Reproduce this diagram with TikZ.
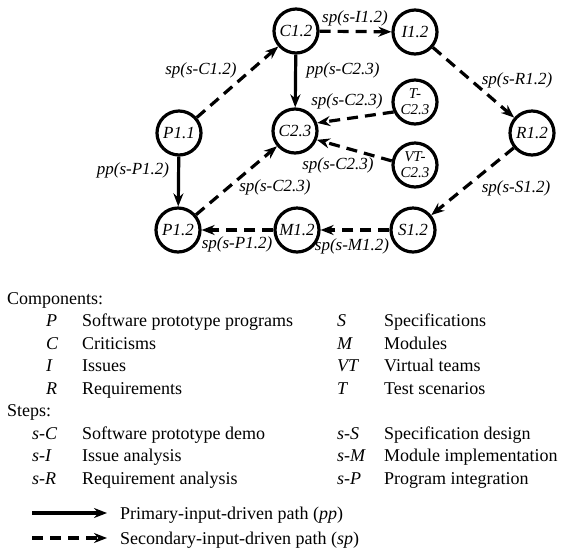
\documentclass[tikz,border=0pt]{standalone}
\usepackage{fontspec}
\setmainfont{Liberation Serif}
\usetikzlibrary{arrows.meta}
\begin{document}
\begin{tikzpicture}[x=1pt,y=-1pt,
  st/.style={circle,draw,line width=3.2pt,minimum size=44pt,inner sep=0pt,
    font=\fontsize{17}{15}\selectfont\itshape,align=center},
  st2/.style={st,font=\fontsize{15}{16}\selectfont\itshape},
  lbl/.style={font=\fontsize{17}{17}\selectfont\itshape,inner sep=0pt},
  ppath/.style={line width=3.2pt,-{Stealth[length=13pt,width=10pt]}},
  spath/.style={ppath,dash pattern=on 11pt off 7pt},
  lg/.style={font=\fontsize{18}{18}\selectfont,anchor=base west,inner sep=0pt},
  lgi/.style={lg,font=\fontsize{18}{18}\selectfont\itshape}]
\useasboundingbox (0,0) rectangle (567,550);
% nodes
\node[st] (C12) at (296,31) {C1.2};
\node[st] (I12) at (415,32) {I1.2};
\node[st] (P11) at (179,133) {P1.1};
\node[st] (C23) at (295,131) {C2.3};
\node[st2] (TC)  at (415,102) {T-\\C2.3};
\node[st2] (VTC) at (415,165) {VT-\\C2.3};
\node[st] (R12) at (532,133) {R1.2};
\node[st] (P12) at (178,230) {P1.2};
\node[st] (M12) at (297,230) {M1.2};
\node[st] (S12) at (413,230) {S1.2};
% connectors
\draw[spath] (P11) -- (C12);
\draw[spath] (C12) -- (I12);
\draw[ppath] (C12) -- (C23);
\draw[spath] (I12) -- (R12);
\draw[spath] (TC.205) -- (C23.20);
\draw[spath] (VTC.170) -- (C23.-22);
\draw[spath] (P12) -- (C23);
\draw[ppath] (P11) -- (P12);
\draw[spath] (R12) -- (S12);
\draw[spath] (S12) -- (M12);
\draw[spath] (M12) -- (P12);
% labels
\node[lbl] (l1) at (201,70) {sp(s-C1.2)};
\node[lbl] (l2) at (355,18) {sp(s-I1.2)};
\node[lbl] (l3) at (343,70) {pp(s-C2.3)};
\node[lbl] (l4) at (347,101) {sp(s-C2.3)};
\node[lbl] (l5) at (338,165) {sp(s-C2.3)};
\node[lbl] (l6) at (275,187) {sp(s-C2.3)};
\node[lbl] (l7) at (133,170) {pp(s-P1.2)};
\node[lbl] (l8) at (237,244) {sp(s-P1.2)};
\node[lbl] (l9) at (352,246) {sp(s-M1.2)};
\node[lbl] (l10) at (517,80) {sp(s-R1.2)};
\node[lbl] (l11) at (516,188) {sp(s-S1.2)};
% legend
\node[lg] (g0) at (7,304) {Components:};
\node[lgi] (a1) at (46,326.5) {P};
\node[lg]  (b1) at (82,326.5) {Software prototype programs};
\node[lgi] (a2) at (46,349) {C};
\node[lg]  (b2) at (82,349) {Criticisms};
\node[lgi] (a3) at (46,371.5) {I};
\node[lg]  (b3) at (82,371.5) {Issues};
\node[lgi] (a4) at (46,394) {R};
\node[lg]  (b4) at (82,394) {Requirements};
\node[lg] (g1) at (7,416.5) {Steps:};
\node[lgi] (a6) at (32,439) {s-C};
\node[lg]  (b6) at (82,439) {Software prototype demo};
\node[lgi] (a7) at (32,461.5) {s-I};
\node[lg]  (b7) at (82,461.5) {Issue analysis};
\node[lgi] (a8) at (32,484) {s-R};
\node[lg]  (b8) at (82,484) {Requirement analysis};
\node[lgi] (c1) at (337,326.5) {S};
\node[lg]  (d1) at (384,326.5) {Specifications};
\node[lgi] (c2) at (337,349) {M};
\node[lg]  (d2) at (384,349) {Modules};
\node[lgi] (c3) at (337,371.5) {VT};
\node[lg]  (d3) at (384,371.5) {Virtual teams};
\node[lgi] (c4) at (337,394) {T};
\node[lg]  (d4) at (384,394) {Test scenarios};
\node[lgi] (c6) at (337,439) {s-S};
\node[lg]  (d6) at (384,439) {Specification design};
\node[lgi] (c7) at (337,461.5) {s-M};
\node[lg]  (d7) at (384,461.5) {Module implementation};
\node[lgi] (c8) at (337,484) {s-P};
\node[lg]  (d8) at (384,484) {Program integration};
\coordinate (k1a) at (32,513);
\coordinate (k1b) at (107,513);
\coordinate (k2a) at (32,538);
\coordinate (k2b) at (107,538);
\draw[ppath] (k1a) -- (k1b);
\draw[spath] (k2a) -- (k2b);
\node[lg] (e1) at (120,519) {Primary-input-driven path (\textit{pp})};
\node[lg] (e2) at (120,544) {Secondary-input-driven path (\textit{sp})};
\end{tikzpicture}
\end{document}
